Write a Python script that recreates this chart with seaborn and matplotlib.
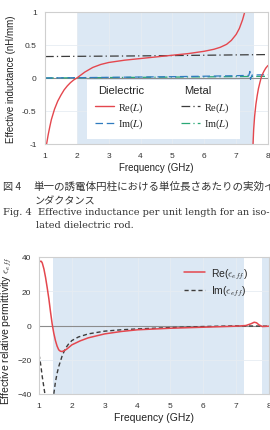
import numpy as np
import pandas as pd
import matplotlib
matplotlib.use("Agg")
import matplotlib.pyplot as plt
from matplotlib.lines import Line2D
from matplotlib.font_manager import FontProperties
import seaborn as sns

# Fig. 4 - effective inductance, dielectric rod (red branch below/above resonance)
f_re_a = [1.03, 1.05, 1.1, 1.15, 1.2, 1.3, 1.4, 1.5, 1.6, 1.7, 1.8, 1.9, 2.0,
          2.25, 2.5, 2.75, 3.0, 3.5, 4.0, 4.5, 5.0, 5.5, 6.0, 6.3, 6.5, 6.7,
          6.85, 7.0, 7.1, 7.2, 7.27, 7.32]
L_re_a = [-1.08, -1.0, -0.86, -0.74, -0.63, -0.47, -0.35, -0.26, -0.18, -0.12,
          -0.07, -0.03, 0.0, 0.09, 0.16, 0.205, 0.235, 0.27, 0.295, 0.32,
          0.345, 0.37, 0.405, 0.435, 0.465, 0.51, 0.57, 0.66, 0.75, 0.88,
          1.0, 1.15]
f_re_b = [7.52, 7.53, 7.55, 7.58, 7.62, 7.66, 7.7, 7.75, 7.8, 7.87, 7.93, 8.0]
L_re_b = [-1.3, -1.0, -0.78, -0.58, -0.4, -0.27, -0.16, -0.06, 0.03, 0.1,
          0.15, 0.19]

f_im = [1.0, 2.0, 3.0, 4.0, 5.0, 6.0, 7.0, 7.4, 7.43, 7.45, 7.5, 8.0]
L_im = [0.0, 0.005, 0.01, 0.015, 0.02, 0.027, 0.035, 0.04, 0.10, -0.02, 0.045, 0.05]

# metal rod
f_metal = [1.0, 4.0, 8.0]
L_metal_re = [0.325, 0.335, 0.355]
L_metal_im = [0.0, 0.01, 0.025]

# Fig. 5 - effective relative permittivity
f_eps_re = [1.0, 1.03, 1.07, 1.1, 1.15, 1.2, 1.25, 1.3, 1.35, 1.4, 1.45, 1.5,
            1.55, 1.6, 1.65, 1.7, 1.78, 1.85, 2.0, 2.25, 2.5, 3.0, 3.5, 4.0,
            5.0, 6.0, 7.0, 7.3, 7.45, 7.55, 7.62, 7.7, 7.8, 8.0]
eps_re = [36.5, 37.5, 37.5, 36.5, 33.0, 28.0, 22.0, 15.6, 8.0, 1.0, -4.5,
          -8.8, -12.0, -14.2, -15.0, -15.2, -14.6, -13.7, -11.3, -9.0, -7.2,
          -4.9, -3.5, -2.5, -1.6, -1.0, -0.4, 0.0, 1.0, 1.9, 1.6, 0.3, -0.6,
          -0.4]
f_eps_im_a = [1.0, 1.03, 1.06, 1.1, 1.14, 1.18, 1.22]
eps_im_a = [-17.0, -20.0, -24.0, -30.0, -35.0, -40.0, -46.0]
f_eps_im_b = [1.4, 1.45, 1.5, 1.55, 1.6, 1.7, 1.8, 1.9, 2.0, 2.2, 2.5, 3.0,
              3.5, 4.0, 5.0, 6.0, 7.0, 7.5, 8.0]
eps_im_b = [-52.0, -40.0, -33.0, -28.0, -24.0, -18.0, -13.5, -10.8, -8.8,
            -6.7, -4.9, -3.3, -2.5, -2.0, -1.2, -0.6, -0.2, -0.3, -0.4]

ticks_f = [1, 2, 3, 4, 5, 6, 7, 8]
ticks_L = [-1, -0.5, 0, 0.5, 1]
ticks_eps = [-40, -20, 0, 20, 40]

RED = "#e4474e"
BLUE = "#2f7bbf"
DARK = "#3c3c3c"
GREEN = "#2aa876"
SHADE = "#dce8f4"

sns.set_theme(style="whitegrid")
plt.rcParams["font.family"] = ["Liberation Sans", "DejaVu Sans"]
plt.rcParams["grid.color"] = "#e6ecf2"
plt.rcParams["grid.linewidth"] = 0.6

fig = plt.figure(figsize=(2.70, 4.31), dpi=100)


def style_axes(ax, fs_tick, fs_lab, pad):
    ax.set_axisbelow(True)
    ax.tick_params(axis="both", labelsize=fs_tick, colors="#333333", pad=pad,
                   length=0)
    for s in ax.spines.values():
        s.set_color("#cfcfcf")
        s.set_linewidth(0.8)
    ax.xaxis.label.set_size(fs_lab)
    ax.yaxis.label.set_size(fs_lab)
    ax.xaxis.label.set_color("#222222")
    ax.yaxis.label.set_color("#222222")


# ---------------- top: inductance ----------------
ax1 = fig.add_axes([45 / 270, 1 - 145 / 431, 223 / 270, 132 / 431])
ax1.axvspan(2.0, 7.55, color=SHADE, zorder=0.2, lw=0)
ax1.axhline(0, color="#8c8c8c", lw=0.8, zorder=1)

sns.lineplot(x=f_metal, y=L_metal_re, ax=ax1, color=DARK, lw=0.9,
             linestyle=(0, (7, 2.5, 1, 2.5)), sort=False, estimator=None)
sns.lineplot(x=f_metal, y=L_metal_im, ax=ax1, color=GREEN, lw=0.9,
             linestyle=(0, (7, 2.5, 1, 2.5)), sort=False, estimator=None)
sns.lineplot(x=f_im, y=L_im, ax=ax1, color=BLUE, lw=0.9,
             linestyle=(0, (6, 3)), sort=False, estimator=None)
sns.lineplot(x=f_re_a, y=L_re_a, ax=ax1, color=RED, lw=1.0,
             sort=False, estimator=None)
sns.lineplot(x=f_re_b, y=L_re_b, ax=ax1, color=RED, lw=1.0,
             sort=False, estimator=None)

ax1.set_xlim(1, 8)
ax1.set_ylim(-1, 1)
ax1.set_xticks(ticks_f)
ax1.set_yticks(ticks_L)
ax1.set_yticklabels(["-1", "-0.5", "0", "0.5", "1"])
ax1.set_xlabel("Frequency (GHz)")
ax1.set_ylabel("Effective inductance (nH/mm)")
style_axes(ax1, 6, 7, 6)
ax1.xaxis.set_label_coords(0.5, -0.14)
ax1.yaxis.set_label_coords(-0.128, 0.5)

blank = Line2D([], [], color="none")
h_re = Line2D([], [], color=RED, lw=1.0)
h_im = Line2D([], [], color=BLUE, lw=0.9, linestyle=(0, (6, 3)))
h_mre = Line2D([], [], color=DARK, lw=0.9, linestyle=(0, (7, 2.5, 1, 2.5)))
h_mim = Line2D([], [], color=GREEN, lw=0.9, linestyle=(0, (7, 2.5, 1, 2.5)))
leg_prop = FontProperties(family="Liberation Serif", size=7.5,
                          math_fontfamily="stix")
leg1 = ax1.legend([blank, h_re, h_im, blank, h_mre, h_mim],
                  ["Dielectric", r"Re($L$)", r"Im($L$)",
                   "Metal", r"Re($L$)", r"Im($L$)"],
                  ncol=2, loc="lower left", bbox_to_anchor=(0.165, 0.0),
                  prop=leg_prop, frameon=True, framealpha=1, fancybox=False,
                  handlelength=1.8, handletextpad=0.4, columnspacing=1.6,
                  labelspacing=0.25, borderpad=0.8)
leg1.get_frame().set_edgecolor("white")
leg1.get_frame().set_linewidth(0)
for t in (leg1.get_texts()[0], leg1.get_texts()[3]):
    t.set_fontfamily(["Liberation Sans"])
    t.set_fontsize(8)
    t.set_position((-20, 3))

# ---------------- bottom: permittivity ----------------
ax2 = fig.add_axes([39 / 270, 36 / 431, 230 / 270, 137 / 431])
ax2.axvspan(1.43, 7.25, color=SHADE, zorder=0.2, lw=0)
ax2.axvspan(7.8, 8.0, color=SHADE, zorder=0.2, lw=0)
ax2.axhline(0, color="#8c8c8c", lw=0.8, zorder=1)

sns.lineplot(x=f_eps_im_a, y=eps_im_a, ax=ax2, color=DARK, lw=1.0,
             linestyle=(0, (3, 2)), sort=False, estimator=None)
sns.lineplot(x=f_eps_im_b, y=eps_im_b, ax=ax2, color=DARK, lw=1.0,
             linestyle=(0, (3, 2)), sort=False, estimator=None)
sns.lineplot(x=f_eps_re, y=eps_re, ax=ax2, color=RED, lw=1.1,
             sort=False, estimator=None)

ax2.set_xlim(1, 8)
ax2.set_ylim(-40, 40)
ax2.set_xticks(ticks_f)
ax2.set_yticks(ticks_eps)
ax2.set_xlabel("Frequency (GHz)")
ax2.set_ylabel(r"Effective relative permittivity $\epsilon_{eff}$")
style_axes(ax2, 6, 7.5, 5.5)
ax2.yaxis.label.set_math_fontfamily("cm")
ax2.xaxis.set_label_coords(0.5, -0.13)
ax2.yaxis.set_label_coords(-0.108, 0.47)

h_ere = Line2D([], [], color=RED, lw=1.1)
h_eim = Line2D([], [], color=DARK, lw=1.0, linestyle=(0, (3, 2)))
leg2 = ax2.legend([h_ere, h_eim],
                  [r"Re($\epsilon_{eff}$)", r"Im($\epsilon_{eff}$)"],
                  loc="upper right", bbox_to_anchor=(0.95, 1.0),
                  frameon=False, fontsize=7.5, handlelength=2.0,
                  handletextpad=0.6, labelspacing=0.3)
for t in leg2.get_texts():
    t.set_math_fontfamily("cm")

# ---------------- caption ----------------
jp = ["Noto Sans CJK JP", "DejaVu Sans"]
fig.text(3 / 270, 1 - 187 / 431, "図 4", family=jp, fontsize=7.3,
         va="center", color="#333333")
fig.text(33 / 270, 1 - 187 / 431,
         "単一の誘電体円柱における単位長さあたりの実効イ",
         family=jp, fontsize=7.6, va="center", color="#333333")
fig.text(35 / 270, 1 - 201 / 431, "ンダクタンス", family=jp, fontsize=7.3,
         va="center", color="#333333")
fig.text(3 / 270, 1 - 213 / 431, "Fig. 4", family=["DejaVu Serif"],
         fontsize=7.0, va="center", color="#333333")
fig.text(38 / 270, 1 - 213 / 431,
         "Effective inductance per unit length for an iso-",
         family=["DejaVu Serif"], fontsize=7.0, va="center", color="#333333")
fig.text(36 / 270, 1 - 226 / 431, "lated dielectric rod.",
         family=["DejaVu Serif"], fontsize=7.0, va="center", color="#333333")

fig.savefig("out.png", dpi=100)
